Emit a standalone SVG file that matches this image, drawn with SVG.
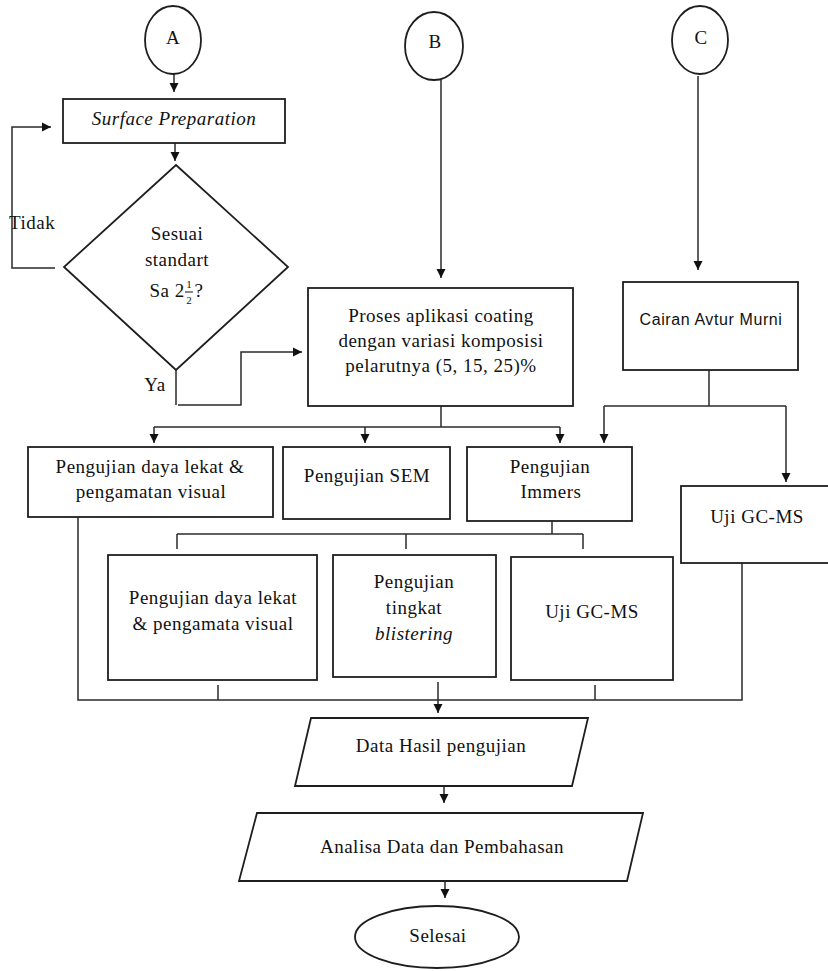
<svg xmlns="http://www.w3.org/2000/svg" width="828" height="971" viewBox="0 0 828 971">
<style>
.shape{fill:#fff;stroke:#1e1e1e;stroke-width:1.8}
.line{fill:none;stroke:#2a2a2a;stroke-width:1.5}
.arr{marker-end:url(#ah)}
text{font-family:"Liberation Serif","Times New Roman",serif;font-size:19px;fill:#111;letter-spacing:0.5px;text-anchor:middle}
.it{font-style:italic}
.sans{font-family:"Liberation Sans",Arial,sans-serif;font-size:16px;letter-spacing:0.6px}
.small{font-size:11px;letter-spacing:0}
</style>
<defs>
<marker id="ah" markerUnits="userSpaceOnUse" markerWidth="9" markerHeight="10" refX="9" refY="4.5" orient="auto" viewBox="0 0 9 9">
<path d="M0,0 L9,4.5 L0,9 z" fill="#111"/>
</marker>
</defs>
<rect width="828" height="971" fill="#fff"/>

<g id="connectors">
<line class="line arr" x1="174" y1="74" x2="174" y2="92"/>
<line class="line arr" x1="175" y1="143" x2="175" y2="161"/>
<polyline class="line arr" points="55,268 12,268 12,127 51,127"/>
<polyline class="line" points="176,370 176,405"/>
<polyline class="line arr" points="178,405 241,405 241,352 302,352"/>
<line class="line arr" x1="441" y1="80" x2="441" y2="278"/>
<line class="line arr" x1="698" y1="76" x2="698" y2="270"/>
<line class="line" x1="441" y1="406" x2="441" y2="427"/>
<line class="line" x1="154" y1="427" x2="560" y2="427"/>
<line class="line arr" x1="154" y1="427" x2="154" y2="443"/>
<line class="line arr" x1="365" y1="427" x2="365" y2="443"/>
<line class="line arr" x1="560" y1="427" x2="560" y2="443"/>
<line class="line" x1="709" y1="370" x2="709" y2="406"/>
<line class="line" x1="604" y1="406" x2="786" y2="406"/>
<line class="line arr" x1="604" y1="406" x2="604" y2="443"/>
<line class="line arr" x1="786" y1="406" x2="786" y2="482"/>
<line class="line" x1="552" y1="521" x2="552" y2="534"/>
<line class="line" x1="177" y1="534" x2="583" y2="534"/>
<line class="line" x1="177" y1="534" x2="177" y2="549"/>
<line class="line" x1="406" y1="534" x2="406" y2="549"/>
<line class="line" x1="583" y1="534" x2="583" y2="549"/>
<polyline class="line" points="78,517 78,700 742,700 742,563"/>
<line class="line" x1="218" y1="685" x2="218" y2="700"/>
<line class="line" x1="595" y1="685" x2="595" y2="700"/>
<line class="line arr" x1="438" y1="682" x2="438" y2="713"/>
<line class="line arr" x1="444" y1="787" x2="444" y2="803"/>
<line class="line arr" x1="445" y1="882" x2="445" y2="898"/>
</g>

<g id="circle-a">
<ellipse class="shape" cx="173" cy="40" rx="28" ry="34"/>
<text x="173" y="44">A</text>
</g>
<g id="circle-b">
<ellipse class="shape" cx="434" cy="46" rx="29" ry="34"/>
<text x="435" y="48">B</text>
</g>
<g id="circle-c">
<ellipse class="shape" cx="700" cy="40" rx="28" ry="34"/>
<text x="701" y="44">C</text>
</g>

<g id="surface-preparation">
<rect class="shape" x="63" y="99" width="222" height="44"/>
<text class="it" x="174" y="125">Surface Preparation</text>
</g>

<g id="decision">
<polygon class="shape" points="176,165 288,267 176,370 64,267"/>
<text x="177" y="240">Sesuai</text>
<text x="177" y="266">standart</text>
<text x="167" y="297">Sa 2</text>
<text class="small" x="189" y="288">1</text>
<line x1="185" y1="292" x2="193" y2="292" stroke="#111" stroke-width="1"/>
<text class="small" x="189" y="304">2</text>
<text x="199" y="297">?</text>
</g>

<g id="label-tidak"><text x="9" y="229" style="text-anchor:start">Tidak</text></g>
<g id="label-ya"><text x="155" y="391">Ya</text></g>

<g id="proses">
<rect class="shape" x="308" y="288" width="265" height="118"/>
<text x="441" y="322">Proses aplikasi coating</text>
<text x="441" y="347">dengan variasi komposisi</text>
<text x="441" y="372">pelarutnya (5, 15, 25)%</text>
</g>

<g id="cairan">
<rect class="shape" x="623" y="282" width="175" height="88"/>
<text class="sans" x="711" y="325">Cairan Avtur Murni</text>
</g>

<g id="daya-lekat-1">
<rect class="shape" x="28" y="447" width="245" height="70"/>
<text x="150" y="473">Pengujian daya lekat &amp;</text>
<text x="151" y="498">pengamatan visual</text>
</g>

<g id="sem">
<rect class="shape" x="283" y="447" width="167" height="72"/>
<text x="367" y="482">Pengujian SEM</text>
</g>

<g id="immers">
<rect class="shape" x="467" y="447" width="165" height="74"/>
<text x="550" y="473">Pengujian</text>
<text x="551" y="498">Immers</text>
</g>

<g id="gcms-1">
<rect class="shape" x="681" y="486" width="150" height="77"/>
<text x="757" y="523">Uji GC-MS</text>
</g>

<g id="daya-lekat-2">
<rect class="shape" x="108" y="555" width="209" height="125"/>
<text x="213" y="604">Pengujian daya lekat</text>
<text x="213" y="630">&amp; pengamata visual</text>
</g>

<g id="blistering">
<rect class="shape" x="333" y="555" width="163" height="122"/>
<text x="414" y="588">Pengujian</text>
<text x="414" y="614">tingkat</text>
<text class="it" x="414" y="640">blistering</text>
</g>

<g id="gcms-2">
<rect class="shape" x="511" y="557" width="162" height="123"/>
<text x="592" y="618">Uji GC-MS</text>
</g>

<g id="data-hasil">
<polygon class="shape" points="311,718 588,718 572,786 295,786"/>
<text x="441" y="752">Data Hasil pengujian</text>
</g>

<g id="analisa">
<polygon class="shape" points="257,813 643,813 627,881 239,881"/>
<text x="442" y="853">Analisa Data dan Pembahasan</text>
</g>

<g id="selesai">
<ellipse class="shape" cx="437" cy="937" rx="82" ry="31"/>
<text x="438" y="942">Selesai</text>
</g>
</svg>
